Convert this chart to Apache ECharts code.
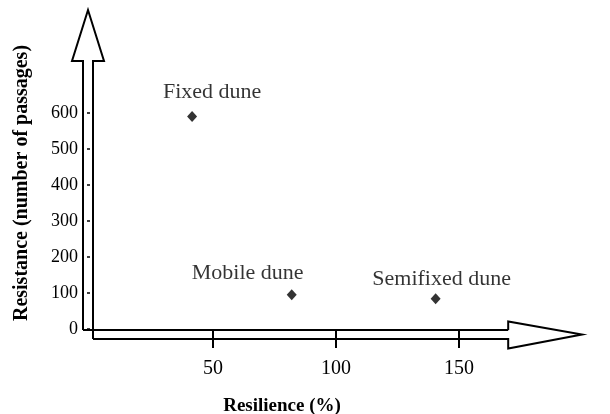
<!DOCTYPE html>
<html>
<head>
<meta charset="utf-8">
<script src="https://cdn.jsdelivr.net/npm/echarts@6/dist/echarts.min.js"></script>
<style>
html,body{margin:0;padding:0;background:#fff;}
#c{width:610px;height:414px;}
</style>
</head>
<body>
<div id="c"></div>
<script>
// ---- data ----
const siteNames = ['Fixed dune', 'Mobile dune', 'Semifixed dune'];
const resilience = [41.5, 82, 140.5];
const resistance = [590, 95, 84];
const xTickValues = [50, 100, 150];
const yTickValues = [0, 100, 200, 300, 400, 500, 600];
const xTitle = 'Resilience (%)';
const yTitle = 'Resistance (number of passages)';

// ---- layout ----
const FONT = '"Liberation Serif", "DejaVu Serif", serif';
const labelOffsets = [[20, -24], [-44, -22], [6, -20]];

const chart = echarts.init(document.getElementById('c'), null, {renderer: 'canvas'});

const points = resilience.map((x, i) => ({
  value: [x, resistance[i]],
  name: siteNames[i],
  label: {offset: labelOffsets[i]}
}));

chart.setOption({
  animation: false,
  backgroundColor: '#fff',
  grid: {left: 90, top: 113, width: 492, height: 216, containLabel: false},
  xAxis: {
    type: 'value', min: 0, max: 200, interval: 50,
    axisLine: {show: false},
    splitLine: {show: false},
    axisTick: {show: true, inside: false, length: 19, customValues: xTickValues,
      lineStyle: {color: '#000', width: 2}},
    axisLabel: {customValues: xTickValues, margin: 30, color: '#000',
      fontFamily: FONT, fontSize: 20}
  },
  yAxis: {
    type: 'value', min: 0, max: 600, interval: 100, offset: 7,
    axisLine: {show: false},
    splitLine: {show: false},
    axisTick: {show: true, inside: false, length: 3, customValues: yTickValues,
      lineStyle: {color: '#000', width: 1.5}},
    axisLabel: {customValues: yTickValues, margin: 5, color: '#000',
      fontFamily: FONT, fontSize: 18}
  },
  series: [{
    type: 'scatter',
    symbol: 'diamond',
    symbolSize: [10, 11],
    itemStyle: {color: '#000'},
    label: {
      show: true, position: 'inside',
      formatter: p => p.name,
      color: '#000', fontFamily: FONT, fontSize: 22
    },
    data: points
  }]
});

// axis arrows (hollow double-line arrows) anchored to the axis origin
const o = chart.convertToPixel({gridIndex: 0}, [0, 0]);
const headX = chart.convertToPixel({xAxisIndex: 0}, 170);
const tipX = chart.convertToPixel({xAxisIndex: 0}, 200);
const vL = o[0] - 7, vR = o[0] + 3;     // vertical arrow lines
const hT = o[1] + 1, hB = o[1] + 10;    // horizontal arrow lines
const vMid = (vL + vR) / 2, hMid = (hT + hB) / 2;
const vBase = 61, vTip = 10;
const ls = {stroke: '#000', lineWidth: 2, fill: null};

chart.setOption({
  graphic: [
    {type: 'polyline', shape: {points: [[vL, hT], [vL, vBase], [vMid - 16, vBase], [vMid, vTip], [vMid + 16, vBase], [vR, vBase], [vR, hB]]}, style: ls, silent: true},
    {type: 'line', shape: {x1: vL, y1: hT, x2: headX, y2: hT}, style: ls, silent: true},
    {type: 'polyline', shape: {points: [[vR, hB], [headX, hB], [headX, hMid + 14], [tipX, hMid], [headX, hMid - 13], [headX, hT]]}, style: ls, silent: true},
    {type: 'text', x: 282, y: 406, style: {text: xTitle, font: 'bold 19px ' + FONT, fill: '#000', align: 'center', verticalAlign: 'middle'}, silent: true},
    {type: 'text', x: 22, y: 183, rotation: Math.PI / 2, style: {text: yTitle, font: 'bold 20px ' + FONT, fill: '#000', align: 'center', verticalAlign: 'middle'}, silent: true}
  ]
});
</script>
</body>
</html>
